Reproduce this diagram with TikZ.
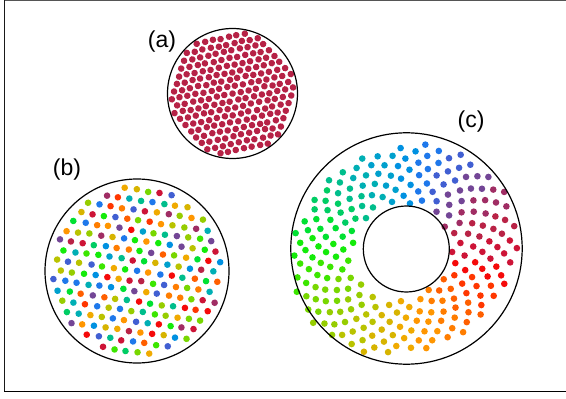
\documentclass[tikz,border=0pt]{standalone}
\usepackage{fontspec}
\setmainfont{Liberation Sans}
\definecolor{p0}{RGB}{205,20,55}
\definecolor{p1}{RGB}{185,35,70}
\definecolor{p2}{RGB}{160,45,100}
\definecolor{p3}{RGB}{115,70,150}
\definecolor{p4}{RGB}{65,95,210}
\definecolor{p5}{RGB}{30,120,235}
\definecolor{p6}{RGB}{0,145,225}
\definecolor{p7}{RGB}{0,160,205}
\definecolor{p8}{RGB}{0,175,180}
\definecolor{p9}{RGB}{0,190,140}
\definecolor{p10}{RGB}{0,205,100}
\definecolor{p11}{RGB}{0,225,50}
\definecolor{p12}{RGB}{20,235,10}
\definecolor{p13}{RGB}{60,230,0}
\definecolor{p14}{RGB}{120,215,0}
\definecolor{p15}{RGB}{150,205,0}
\definecolor{p16}{RGB}{185,195,0}
\definecolor{p17}{RGB}{215,180,0}
\definecolor{p18}{RGB}{240,170,0}
\definecolor{p19}{RGB}{255,150,0}
\definecolor{p20}{RGB}{255,125,0}
\definecolor{p21}{RGB}{255,95,0}
\definecolor{p22}{RGB}{255,55,0}
\definecolor{p23}{RGB}{245,10,10}
\definecolor{dotA}{RGB}{182,34,70}
\definecolor{framegrey}{RGB}{85,85,85}
\tikzset{
  dotc/.style={fill=#1},
  rim/.style={draw=black,line width=1.2pt},
  lbl/.style={font=\fontsize{23}{27}\selectfont,inner sep=0pt}
}
\begin{document}
\begin{tikzpicture}[x=1pt,y=-1pt]
\useasboundingbox (0,0) rectangle (566,399);
\fill[white] (0,0) rectangle (566,399);
\pgfmathsetseed{7}
% (a) dense single-colour hexagonal packing
\begin{scope}[shift={(232.5,93.5)},rotate=12]
\foreach \i in {-9,...,9}{
  \foreach \j in {-9,...,9}{
    \pgfmathsetmacro{\lx}{\i+0.5*\j}
    \pgfmathsetmacro{\ly}{0.866*\j}
    \pgfmathtruncatemacro{\ok}{(\lx*\lx+\ly*\ly<=57.5)}
    \ifnum\ok=1
      \pgfmathsetmacro{\px}{8.1*\lx+0.5*rand}
      \pgfmathsetmacro{\py}{8.1*\ly+0.5*rand}
      \fill[dotc=dotA] (\px,\py) circle[radius=3.3pt];
    \fi
  }
}
\end{scope}
% (b) random colours, hexagonal packing
\begin{scope}[shift={(137,271)},rotate=-8]
\foreach \i in {-9,...,9}{
  \foreach \j in {-9,...,9}{
    \pgfmathsetmacro{\lx}{\i+0.5*\j}
    \pgfmathsetmacro{\ly}{0.866*\j}
    \pgfmathtruncatemacro{\ok}{(\lx*\lx+\ly*\ly<=56.5)}
    \ifnum\ok=1
      \pgfmathsetmacro{\px}{11.6*\lx+0.6*rand}
      \pgfmathsetmacro{\py}{11.6*\ly+0.6*rand}
      \pgfmathrandominteger{\ci}{0}{23}
      \fill[dotc=p\ci] (\px,\py) circle[radius=3.3pt];
    \fi
  }
}
\end{scope}
% (c) annulus, colour by angle
\foreach \k in {0,...,239}{
  \pgfmathsetmacro{\s}{sqrt(0.193+0.807*(\k+0.5)/240)}
  \pgfmathsetmacro{\t}{(\s-0.439)/0.561}
  \pgfmathsetmacro{\ra}{50+67*\t}
  \pgfmathsetmacro{\rb}{46+56*\t}
  \pgfmathsetmacro{\th}{360*frac(\k*0.381966)}
  \pgfmathsetmacro{\u}{\ra*cos(\th)}
  \pgfmathsetmacro{\v}{\rb*sin(\th)}
  \pgfmathsetmacro{\px}{401+3*\t+0.866*\u-0.5*\v+0.6*rand}
  \pgfmathsetmacro{\py}{251.5-1.5*\t-(0.5*\u+0.866*\v)+0.6*rand}
  \pgfmathsetmacro{\ph}{atan2(249-\py,\px-406)}
  \pgfmathtruncatemacro{\ci}{Mod(round(\ph/15),24)}
  \fill[dotc=p\ci] (\px,\py) circle[radius=3.3pt];
}
% outlines
\draw[rim] (232.5,93.5) circle[radius=65pt];
\draw[rim] (137,271) circle[radius=92pt];
\draw[rim] (406.5,248.5) circle[radius=115.7pt];
\draw[rim] (406.3,249) circle[radius=43pt];
% labels
\node[lbl] (la) at (162,42) {(a)};
\node[lbl] (lb) at (67,170) {(b)};
\node[lbl] (lc) at (471,122) {(c)};
% frame
\draw[framegrey,line width=1pt] (4,0.5) -- (566,0.5);
\draw[black!90,line width=1.6pt] (4.5,0) -- (4.5,392);
\draw[black,line width=1.6pt] (4,391.5) -- (566,391.5);
\end{tikzpicture}
\end{document}
